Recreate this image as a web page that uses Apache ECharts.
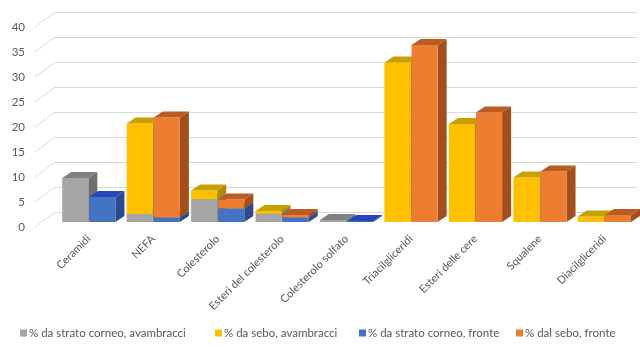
<!DOCTYPE html>
<html>
<head>
<meta charset="utf-8">
<script src="https://cdn.jsdelivr.net/npm/echarts@6/dist/echarts.min.js"></script>
<style>
  html, body { margin: 0; padding: 0; background: #ffffff; }
  #chart { width: 640px; height: 348px; }
</style>
</head>
<body>
<div id="chart"></div>
<script>
// Lipid classes (x axis)
const categories = [
  'Ceramidi', 'NEFA', 'Colesterolo', 'Esteri del colesterolo',
  'Colesterolo solfato', 'Triacilgliceridi', 'Esteri delle cere',
  'Squalene', 'Diacilgliceridi'
];

// Percentages per source and site
const stratoAvambracci = [8.8, 1.6, 4.6, 1.7, 0.4, 0, 0, 0, 0];
const seboAvambracci   = [0, 18.1, 1.7, 0.5, 0, 31.9, 19.6, 8.9, 1.1];
const stratoFronte     = [5.0, 0.9, 2.7, 0.9, 0.2, 0, 0, 0, 0];
const seboFronte       = [0, 20.0, 1.8, 0.5, 0, 35.4, 21.9, 10.1, 1.4];

// Value axis ticks
const yTicks = [0, 5, 10, 15, 20, 25, 30, 35, 40];

const seriesNames = [
  '% da strato corneo, avambracci',
  '% da sebo, avambracci',
  '% da strato corneo, fronte',
  '% dal sebo, fronte'
];

const FONT = 'Lato, "Liberation Sans", sans-serif';
const TEXT = '#595959';
const DEPTH_X = 9, DEPTH_Y = -6;

// face colours: front, side, top
const palette = [
  { front: '#a5a5a5', side: '#6f6f6f', top: '#808080' },
  { front: '#ffc000', side: '#b38600', top: '#c9a000' },
  { front: '#4472c4', side: '#2b4a8c', top: '#2545b8' },
  { front: '#ed7d31', side: '#a34f1b', top: '#bb5c22' }
];

// build stacked rows [category, base, top, column(0 = avambracci, 1 = fronte)]
function stackRows(values, below, column) {
  return values.map((v, i) => {
    const b = below ? below[i] : 0;
    return [i, b, b + v, column];
  });
}

const rows = [
  stackRows(stratoAvambracci, null, 0),
  stackRows(seboAvambracci, stratoAvambracci, 0),
  stackRows(stratoFronte, null, 1),
  stackRows(seboFronte, stratoFronte, 1)
];

function makeBlockRenderer(colors) {
  return function (params, api) {
    const cat = api.value(0);
    const base = api.value(1);
    const top = api.value(2);
    const column = api.value(3);
    if (top - base <= 0) return null;
    const band = api.size([1, 0])[0];
    const center = api.coord([cat, 0])[0];
    const w = band * 0.405;
    const x0 = column === 0 ? center - w - 0.5 : center + 0.5;
    const yb = api.coord([cat, base])[1];
    const yt = api.coord([cat, top])[1];
    return {
      type: 'group',
      children: [
        {
          type: 'polygon',
          shape: { points: [[x0 + w, yb], [x0 + w + DEPTH_X, yb + DEPTH_Y], [x0 + w + DEPTH_X, yt + DEPTH_Y], [x0 + w, yt]] },
          style: { fill: colors.side }
        },
        {
          type: 'rect',
          shape: { x: x0, y: yt, width: w, height: yb - yt },
          style: { fill: colors.front }
        },
        {
          type: 'polygon',
          shape: { points: [[x0, yt], [x0 + w, yt], [x0 + w + DEPTH_X, yt + DEPTH_Y], [x0 + DEPTH_X, yt + DEPTH_Y]] },
          style: { fill: colors.top }
        }
      ]
    };
  };
}

// diagonal ticks joining the value labels to the back wall gridlines
function renderConnector(params, api) {
  const p = api.coord([0, api.value(0)]);
  const x = params.coordSys.x;
  return {
    type: 'line',
    shape: { x1: x - 20, y1: p[1] + 15, x2: x, y2: p[1] },
    style: { stroke: '#d9d9d9', lineWidth: 1 }
  };
}

const chart = echarts.init(document.getElementById('chart'), null, { renderer: 'canvas' });

const legendLefts = [20, 215, 359, 516];

const option = {
  backgroundColor: '#ffffff',
  animation: false,
  textStyle: { fontFamily: FONT },
  legend: seriesNames.map((name, i) => ({
    data: [name],
    left: legendLefts[i],
    top: 327,
    padding: 0,
    icon: 'rect',
    itemWidth: 7,
    itemHeight: 7,
    itemGap: 4,
    textStyle: { color: TEXT, fontSize: 11.5, fontFamily: FONT, padding: [0, 0, 0, -3] },
    selectedMode: false
  })),
  grid: [
    // back wall
    { left: 55, right: 3, top: 12, bottom: 136 },
    // front value labels
    { left: 35, right: 3, top: 27, bottom: 121 },
    // bars
    { left: 56.6, right: 3.4, top: 22, bottom: 126 }
  ],
  xAxis: [
    { gridIndex: 0, type: 'category', data: categories, show: false },
    { gridIndex: 1, type: 'category', data: categories, show: false },
    {
      gridIndex: 2, type: 'category', data: categories,
      axisLine: { show: false }, axisTick: { show: false },
      axisLabel: {
        rotate: 45, margin: 15, interval: 0,
        color: TEXT, fontSize: 11, fontFamily: FONT
      }
    }
  ],
  yAxis: [
    {
      gridIndex: 0, type: 'value', min: 0, max: 40, interval: 5,
      axisLine: { show: false }, axisTick: { show: false }, axisLabel: { show: false },
      splitLine: { lineStyle: { color: '#d9d9d9', width: 1 } }
    },
    {
      gridIndex: 1, type: 'value', min: 0, max: 40, interval: 5,
      axisLine: { show: false }, axisTick: { show: false }, splitLine: { show: false },
      axisLabel: { margin: 10, color: TEXT, fontSize: 11.5, fontFamily: FONT }
    },
    {
      gridIndex: 2, type: 'value', min: 0, max: 40, interval: 5, show: false
    }
  ],
  series: [
    {
      type: 'custom',
      name: 'connectors',
      xAxisIndex: 0, yAxisIndex: 0,
      renderItem: renderConnector,
      data: yTicks.map(v => [v]),
      silent: true
    }
  ].concat(seriesNames.map((name, i) => ({
    type: 'custom',
    name: name,
    xAxisIndex: 2, yAxisIndex: 2,
    itemStyle: { color: palette[i].front },
    renderItem: makeBlockRenderer(palette[i]),
    encode: { x: 0, y: 2 },
    data: rows[i]
  })))
};

chart.setOption(option);
</script>
</body>
</html>
